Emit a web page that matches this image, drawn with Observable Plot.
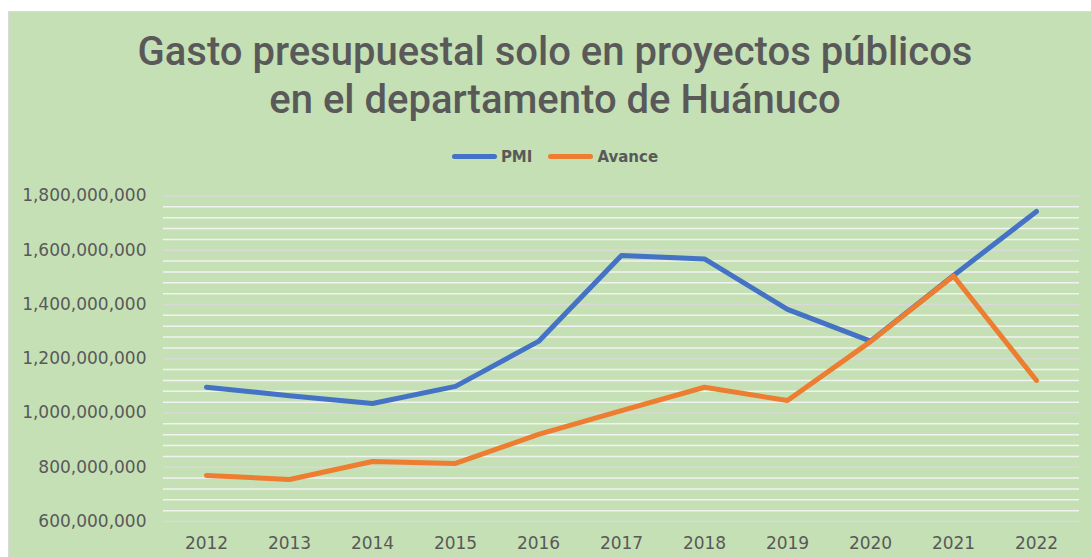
<!DOCTYPE html>
<html>
<head>
<meta charset="utf-8">
<script src="https://cdn.jsdelivr.net/npm/d3@7"></script>
<script src="https://cdn.jsdelivr.net/npm/@observablehq/plot@0.6"></script>
<style>
  html, body { margin: 0; padding: 0; background: #ffffff; }
  body { width: 1091px; height: 557px; position: relative; overflow: hidden; }
  #panel { position: absolute; left: 8px; top: 11px; width: 1090px; height: 560px;
           background: #c5e0b4; border: 1.5px solid #d9d9d9; box-sizing: border-box; }
  #title { position: absolute; left: 0; top: 28px; width: 1110px; text-align: center;
           font-family: Roboto, "Noto Sans", sans-serif; font-weight: 500; font-size: 40px;
           line-height: 48px; color: #595959; }
  #legend { position: absolute; left: 0; top: 145px; width: 1110px; text-align: center;
            font-family: "DejaVu Sans", sans-serif; font-size: 15px; color: #595959; font-weight: bold; }
  #legend .item { display: inline-flex; align-items: center; margin: 0 8px; }
  #legend .sw { display: inline-block; width: 45px; height: 5px; border-radius: 3px; margin-right: 4px; }
  #chart { position: absolute; left: 0; top: 170px; }
</style>
</head>
<body>
<div id="panel"></div>
<div id="title">Gasto presupuestal solo en proyectos públicos<br>en el departamento de Huánuco</div>
<div id="legend"></div>
<div id="chart"></div>
<script>
const years = ["2012","2013","2014","2015","2016","2017","2018","2019","2020","2021","2022"];
const pmi = [1095e6, 1064e6, 1035e6, 1098e6, 1264e6, 1581e6, 1568e6, 1382e6, 1265e6, 1507e6, 1743e6];
const avance = [770e6, 755e6, 821e6, 814e6, 921e6, 1009e6, 1095e6, 1046e6, 1263e6, 1505e6, 1120e6];
const seriesNames = ["PMI", "Avance"];
const seriesColors = ["#4472c4", "#ed7d31"];
const yTicks = [600e6, 800e6, 1000e6, 1200e6, 1400e6, 1600e6, 1800e6];
const minorTicks = d3.range(600e6, 1800e6 + 1, 40e6);

const rows = [];
years.forEach((y, i) => {
  rows.push({year: y, value: pmi[i], series: seriesNames[0]});
  rows.push({year: y, value: avance[i], series: seriesNames[1]});
});

const legend = document.getElementById("legend");
seriesNames.forEach((n, i) => {
  const it = document.createElement("span");
  it.className = "item";
  it.innerHTML = `<span class="sw" style="background:${seriesColors[i]}"></span>${n}`;
  legend.appendChild(it);
});

const plot = Plot.plot({
  width: 1091,
  height: 387,
  marginLeft: 163,
  marginRight: 12,
  marginTop: 25.5,
  marginBottom: 36,
  style: {background: "transparent", fontFamily: "'DejaVu Sans', sans-serif", fontSize: "17px", color: "#595959"},
  x: {type: "point", domain: years, padding: 0.5, label: null},
  y: {domain: [600e6, 1800e6], label: null},
  color: {domain: seriesNames, range: seriesColors},
  marks: [
    Plot.ruleY(minorTicks.filter(t => !yTicks.includes(t)), {stroke: "#f2f2f2", strokeWidth: 1.5}),
    Plot.ruleY(yTicks, {stroke: "#d9d9d9", strokeWidth: 1.5}),
    Plot.axisY(yTicks, {tickSize: 0, tickPadding: 17, tickFormat: d3.format(",.0f"), fill: "#595959", label: null}),
    Plot.axisX({tickSize: 0, tickPadding: 15, fill: "#595959", label: null}),
    Plot.line(rows, {x: "year", y: "value", stroke: "series", z: "series", strokeWidth: 5, strokeLinecap: "round", strokeLinejoin: "round"})
  ]
});
document.getElementById("chart").appendChild(plot);
</script>
</body>
</html>
